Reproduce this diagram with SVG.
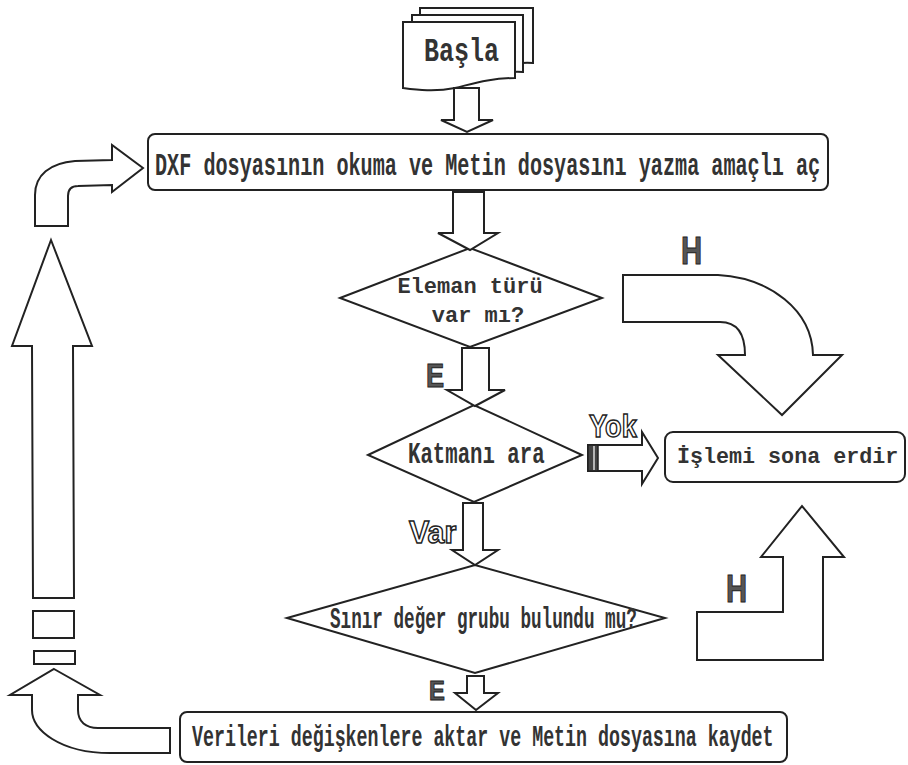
<svg xmlns="http://www.w3.org/2000/svg" width="908" height="765" viewBox="0 0 908 765">
<style>
.s{fill:#fff;stroke:#222;stroke-width:2;stroke-linejoin:miter}
.t{font-family:"Liberation Mono","DejaVu Sans Mono",monospace;font-weight:bold;fill:#333}
.lb{font-family:"Liberation Sans","DejaVu Sans",sans-serif;font-weight:bold;fill:#555;stroke:#222;stroke-width:1}
.ol{font-family:"Liberation Sans","DejaVu Sans",sans-serif;font-weight:bold;fill:#fff;stroke:#222;stroke-width:1.5}
</style>
<rect width="908" height="765" fill="#fff"/>
<g id="basla">
<path class="s" d="M420,8 H533 V63 C515,62 500,66 490,70 H420 Z"/>
<path class="s" d="M412,15 H523 V72 C505,71 490,75 480,79 H412 Z"/>
<path class="s" d="M403,22 H515 V78 C490,78 472,84 455,88 C435,92 418,90 403,88 Z"/>
<text class="t" font-size="34" transform="translate(424,61) scale(0.735,1)">Başla</text>
</g>
<g id="dxf">
<rect class="s" x="148" y="134" width="680" height="56" rx="7"/>
<text class="t" font-size="32" transform="translate(155,175) scale(0.63,1)">DXF dosyasının okuma ve Metin dosyasını yazma amaçlı aç</text>
</g>
<g id="eleman">
<path class="s" d="M340,298 L470,248 L602,298 L470,347 Z"/>
<text class="t" x="470" y="293" font-size="22" text-anchor="middle" fill="#444">Eleman türü</text>
<text class="t" x="478" y="322" font-size="22" text-anchor="middle" fill="#444">var mı?</text>
</g>
<g id="katman">
<path class="s" d="M368,455 L474,405 L582,455 L474,502 Z"/>
<text class="t" font-size="30" transform="translate(408,463) scale(0.69,1)">Katmanı ara</text>
</g>
<g id="islemi">
<rect class="s" x="665" y="432" width="240" height="50" rx="8"/>
<text class="t" x="677" y="463" font-size="21.7">İşlemi sona erdir</text>
</g>
<g id="sinir">
<path class="s" d="M287,618 L475,565 L665,618 L475,673 Z"/>
<text class="t" font-size="30" transform="translate(330,628) scale(0.588,1)">Sınır değer grubu bulundu mu?</text>
</g>
<g id="verileri">
<rect class="s" x="180" y="712" width="607" height="50" rx="7"/>
<text class="t" font-size="30" transform="translate(192,746) scale(0.61,1)">Verileri değişkenlere aktar ve Metin dosyasına kaydet</text>
</g>
<g id="connectors">
<path class="s" d="M454,88 V120 H441 L467,132 L493,120 H479 V88 Z"/>
<path class="s" d="M453,192 V233 H438 L470,250 L498,233 H484 V192 Z"/>
<path class="s" d="M462,348 V390 H447 L475,406 L505,390 H489 V348 Z"/>
<path class="s" d="M463,503 V550 H452 L475,565 L498,550 H483 V503 Z"/>
<path class="s" d="M467,676 V693 H455 L476,710 L498,693 H484 V676 Z"/>
<path class="s" d="M588,445 H642 V432 L658,458 L642,484 V471 H588 Z"/>
<rect x="588" y="445" width="10" height="26" fill="#444" stroke="#222" stroke-width="1.5"/>
<line x1="594" y1="446" x2="594" y2="470" stroke="#ddd" stroke-width="1.5"/>
<path class="s" d="M623,275 H718 C770,278 812,310 813,355 H842 L782,415 L718,355 H745 C745,335 738,322 720,322 H623 Z"/>
<path class="s" d="M697,612 H783 V557 H761 L802,506 L844,557 H823 V660 H697 Z"/>
<path class="s" d="M51,240 L92,346 H73 L74,598 H33 L32,346 H12 Z"/>
<rect class="s" x="33" y="611" width="41" height="27"/>
<rect class="s" x="34" y="651" width="41" height="13"/>
<path class="s" d="M54,669 L100,695 H78 V710 C78,722 86,728 98,728 H170 V753 H110 C60,753 32,730 32,710 V695 H10 Z"/>
<path class="s" d="M35,226 V195 C35,175 50,163 75,161 L112,160 V145 L143,168 L112,192 V185 L78,186 C71,186 68,190 68,196 V226 Z"/>
<text class="lb" font-size="34" transform="translate(426,387) scale(0.8,1)">E</text>
<text class="lb" font-size="28" transform="translate(429,700) scale(0.85,1)">E</text>
<text class="lb" font-size="38" transform="translate(681,264) scale(0.77,1)">H</text>
<text class="lb" font-size="38" transform="translate(726,602) scale(0.77,1)">H</text>
<text class="ol" font-size="32" transform="translate(589,437) scale(0.85,1)">Yok</text>
<text class="ol" font-size="32" transform="translate(409,543) scale(0.95,1)">Var</text>
</g>
</svg>
